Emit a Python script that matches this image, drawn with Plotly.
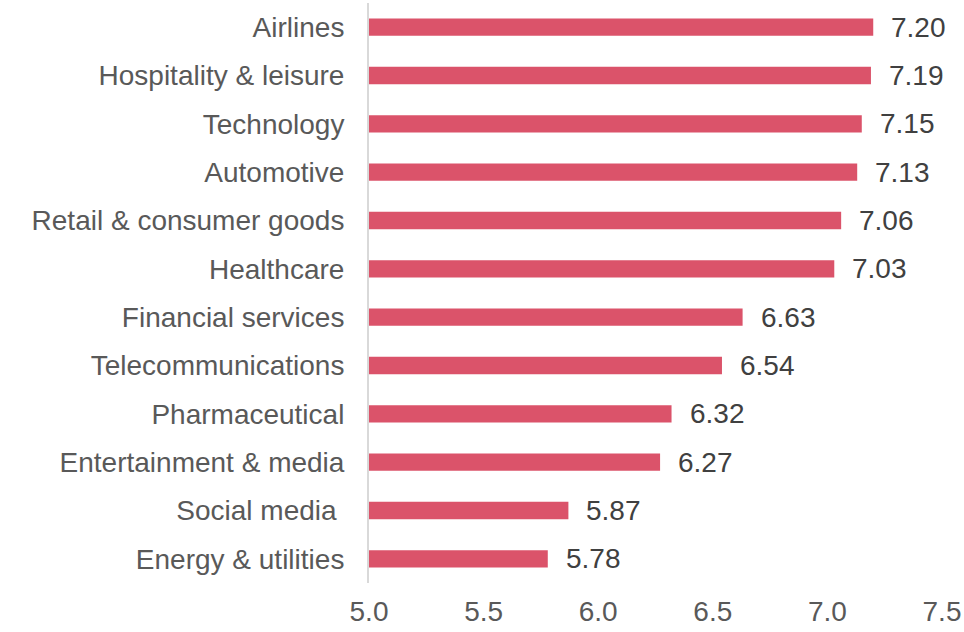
import plotly.graph_objects as go

# Industry scores, listed top to bottom
industries = [
    "Airlines",
    "Hospitality & leisure",
    "Technology",
    "Automotive",
    "Retail & consumer goods",
    "Healthcare",
    "Financial services",
    "Telecommunications",
    "Pharmaceutical",
    "Entertainment & media",
    "Social media\u00a0",
    "Energy & utilities",
]
scores = [7.20, 7.19, 7.15, 7.13, 7.06, 7.03, 6.63, 6.54, 6.32, 6.27, 5.87, 5.78]

x_ticks = [5.0, 5.5, 6.0, 6.5, 7.0, 7.5]
x_tick_labels = ["5.0", "5.5", "6.0", "6.5", "7.0", "7.5"]

BAR_COLOR = "#DB536A"
FONT = "Liberation Sans, Arial, sans-serif"
FONT_SIZE = 28

fig = go.Figure()
fig.add_trace(
    go.Bar(
        x=[s - 5.0 for s in scores],
        base=5.0,
        y=industries,
        orientation="h",
        marker=dict(color=BAR_COLOR, line=dict(width=0)),
        width=0.36,
        hoverinfo="skip",
    )
)

# Value labels to the right of each bar
for name, val in zip(industries, scores):
    fig.add_annotation(
        x=val,
        y=name,
        text=f"{val:.2f}",
        showarrow=False,
        xanchor="left",
        yanchor="middle",
        xshift=16,
        font=dict(family=FONT, size=FONT_SIZE, color="#404040"),
    )

fig.update_layout(
    width=964,
    height=632,
    margin=dict(l=369, r=20, t=3, b=49),
    paper_bgcolor="white",
    plot_bgcolor="white",
    showlegend=False,
    font=dict(family=FONT, size=FONT_SIZE, color="#595959"),
    xaxis=dict(
        range=[5.0, 7.5],
        tickvals=x_ticks,
        ticktext=x_tick_labels,
        showgrid=False,
        zeroline=False,
        showline=False,
        ticks="",
        ticklabelstandoff=9,
        tickfont=dict(family=FONT, size=FONT_SIZE, color="#595959"),
    ),
    yaxis=dict(
        categoryorder="array",
        categoryarray=industries[::-1],
        showgrid=False,
        zeroline=False,
        showline=True,
        linecolor="#D9D9D9",
        linewidth=2,
        ticks="",
        ticklabelstandoff=17,
        tickfont=dict(family=FONT, size=FONT_SIZE, color="#595959"),
    ),
)

fig.write_html("out.html")
